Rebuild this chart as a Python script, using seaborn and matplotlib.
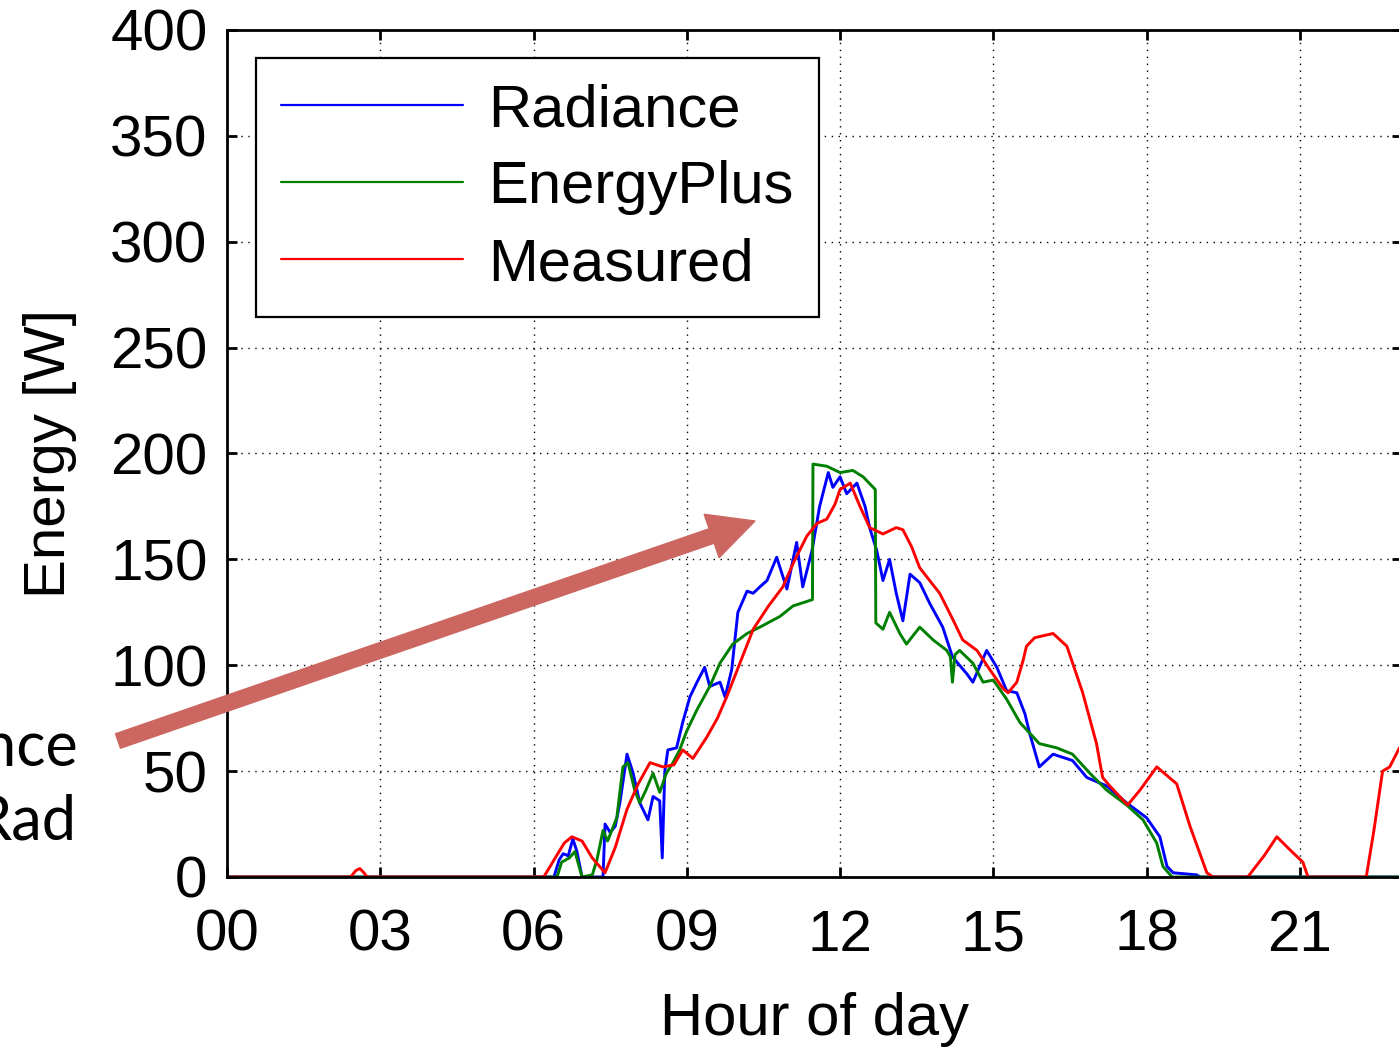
'''
Hourly energy: Radiance vs EnergyPlus vs measured, with a slide arrow
pointing into the noon peak (the figure is cropped on both sides).
'''

import matplotlib
matplotlib.use('Agg')
import matplotlib.pyplot as plt
import seaborn as sns
import pandas as pd

# Data (hour of day, W)
radiance_h = [0, 6.4, 6.5, 6.58, 6.68, 6.77, 6.85, 6.95, 7.36, 7.4, 7.5, 7.6,
              7.69, 7.83, 7.95, 8.08, 8.24, 8.34, 8.47, 8.52, 8.57, 8.63, 8.8,
              8.92, 9.06, 9.2, 9.35, 9.45, 9.65, 9.75, 9.88, 10.0, 10.18, 10.3,
              10.43, 10.57, 10.76, 10.96, 11.15, 11.27, 11.45, 11.6, 11.77,
              11.86, 12.0, 12.13, 12.33, 12.49, 12.58, 12.72, 12.84, 12.97,
              13.1, 13.23, 13.37, 13.56, 13.76, 14.01, 14.2, 14.48, 14.6,
              14.87, 15.07, 15.26, 15.46, 15.62, 15.71, 15.9, 16.17, 16.55,
              16.83, 17.22, 17.61, 18.0, 18.26, 18.4, 18.52, 18.98, 19.05, 23]
radiance_w = [0, 0, 8, 11, 10, 18, 12, 0, 0, 25, 21, 24,
              35, 58, 49, 35, 27, 38, 36, 9, 50, 60, 61,
              73, 85, 92, 99, 90, 92, 85, 98, 125, 135, 134,
              137, 140, 151, 136, 158, 137, 154, 175, 191,
              184, 189, 181, 186, 175, 165, 154, 140, 150,
              134, 121, 143, 139, 129, 118, 104, 96, 92,
              107, 99, 88, 87, 77, 68, 52, 58, 55,
              47, 43, 35, 28, 19, 5, 2, 1, 0, 0]

eplus_h = [0, 6.46, 6.55, 6.7, 6.81, 6.95, 7.15, 7.24, 7.36, 7.45, 7.63, 7.75,
           7.85, 7.98, 8.08, 8.2, 8.34, 8.47, 8.6, 8.73, 8.86, 9.0, 9.2, 9.45,
           9.65, 9.9, 10.18, 10.43, 10.82, 11.08, 11.46, 11.47, 11.74, 12.0,
           12.25, 12.45, 12.69, 12.7, 12.84, 12.97, 13.17, 13.3, 13.56, 13.82,
           14.09, 14.16, 14.2, 14.25, 14.34, 14.6, 14.8, 15.0, 15.26, 15.52,
           15.9, 16.24, 16.55, 16.89, 17.22, 17.61, 17.93, 18.2, 18.32, 18.5,
           23]
eplus_w = [0, 0, 7, 9, 12, 0, 1, 8, 22, 17, 28, 52,
           54, 41, 35, 41, 49, 40, 49, 54, 60, 69, 79, 90,
           101, 110, 115, 118, 123, 128, 131, 195, 194, 191,
           192, 189, 183, 120, 117, 125, 115, 110, 118, 112,
           107, 104, 92, 105, 107, 101, 92, 93, 84, 73,
           63, 61, 58, 49, 41, 34, 27, 16, 5, 0,
           0]

measured_h = [0, 2.42, 2.52, 2.6, 2.68, 2.74, 6.2, 6.4, 6.6, 6.75, 6.95, 7.15,
              7.4, 7.6, 7.83, 8.05, 8.28, 8.53, 8.75, 8.92, 9.12, 9.39, 9.6,
              9.78, 10.04, 10.3, 10.6, 10.88, 11.1, 11.35, 11.55, 11.74, 11.9,
              12.0, 12.2, 12.39, 12.58, 12.84, 13.1, 13.23, 13.4, 13.56, 13.95,
              14.2, 14.4, 14.68, 14.93, 15.19, 15.29, 15.46, 15.58, 15.65,
              15.81, 16.17, 16.44, 16.75, 17.02, 17.14, 17.28, 17.63, 17.87,
              18.2, 18.59, 18.85, 19.18, 19.3, 19.98, 20.3, 20.55, 20.8, 21.06,
              21.16, 22.3, 22.45, 22.62, 22.76, 22.95]
measured_w = [0, 0, 3, 4, 2, 0, 0, 8, 16, 19, 17, 9,
              2, 14, 32, 44, 54, 52, 53, 60, 56, 66, 75,
              85, 101, 117, 128, 137, 149, 161, 167, 169, 176,
              183, 186, 175, 165, 162, 165, 164, 156, 146, 134,
              122, 112, 107, 98, 89, 87, 92, 102, 109,
              113, 115, 109, 87, 63, 47, 43, 34, 41,
              52, 44, 24, 2, 0, 0, 10, 19, 13, 7,
              0, 0, 22, 50, 52, 61]

series_names = ['Radiance', 'EnergyPlus', 'Measured']
series_colors = ['#0000ff', '#008000', '#ff0000']
hour_ticks = list(range(0, 22, 3))
energy_ticks = list(range(0, 401, 50))


def main():
    sns.set_style('ticks')
    plt.rcParams['font.family'] = ['Liberation Sans', 'DejaVu Sans']
    plt.rcParams['text.color'] = 'k'
    plt.rcParams['axes.labelcolor'] = 'k'
    plt.rcParams['xtick.color'] = 'k'
    plt.rcParams['ytick.color'] = 'k'

    fig = plt.figure(figsize=(13.99, 10.47), dpi=100)
    # axes run past the right edge of the crop
    ax = fig.add_axes([227 / 1399, 170 / 1047, 1175 / 1399, 847 / 1047])

    data = [(radiance_h, radiance_w), (eplus_h, eplus_w),
            (measured_h, measured_w)]
    for (h, w), name, col in zip(data, series_names, series_colors):
        df = pd.DataFrame({'hour': h, 'energy': w})
        sns.lineplot(data=df, x='hour', y='energy', ax=ax, color=col,
                     linewidth=2.1, label=name, estimator=None, sort=False)

    ax.set_xlim(0, 23)
    ax.set_ylim(0, 400)
    ax.set_xticks(hour_ticks)
    ax.set_xticklabels(['%02d' % t for t in hour_ticks])
    ax.set_yticks(energy_ticks)
    ax.grid(True, color='k', linestyle=(0, (1, 4)), linewidth=1.0)
    for s in ax.spines.values():
        s.set_linewidth(2.0)
        s.set_color('k')
        s.set_visible(True)
    ax.tick_params(axis='both', direction='in', length=7, width=2.0,
                   top=True, right=True, labelsize=42, colors='k')
    ax.tick_params(axis='x', pad=23)
    ax.tick_params(axis='y', pad=14)
    ax.set_xlabel('Hour of day', fontsize=43, labelpad=21)
    ax.set_ylabel('Energy [W]', fontsize=42, labelpad=24)

    leg = ax.legend(loc='upper left', bbox_to_anchor=(29 / 1175, 819 / 847),
                    borderaxespad=0, fontsize=43, handlelength=3.05,
                    handletextpad=0.42, labelspacing=0.37, borderpad=0.42,
                    fancybox=False, framealpha=1, edgecolor='k')
    leg.get_frame().set_linewidth(1.6)
    for line in leg.get_lines():
        line.set_linewidth(1.6)

    # slide annotation: arrow and cut-off text on the left
    ax.annotate('', xy=(755, 1047 - 521), xycoords='figure pixels',
                xytext=(118, 1047 - 741), textcoords='figure pixels',
                arrowprops=dict(arrowstyle='simple,head_width=1.65,'
                                'head_length=1.65,tail_width=0.55',
                                color='#cc6660', mutation_scale=20,
                                shrinkA=0, shrinkB=0),
                annotation_clip=False, zorder=10)
    fig.text(78 / 1399, (1047 - 765) / 1047, 'Radiance', ha='right',
             va='baseline', fontsize=44, family=['Lato', 'DejaVu Sans'])
    fig.text(76 / 1399, (1047 - 840) / 1047, 'Rad', ha='right',
             va='baseline', fontsize=44, family=['Lato', 'DejaVu Sans'])

    fig.savefig('out.png', dpi=100)


if __name__ == '__main__':
    main()
